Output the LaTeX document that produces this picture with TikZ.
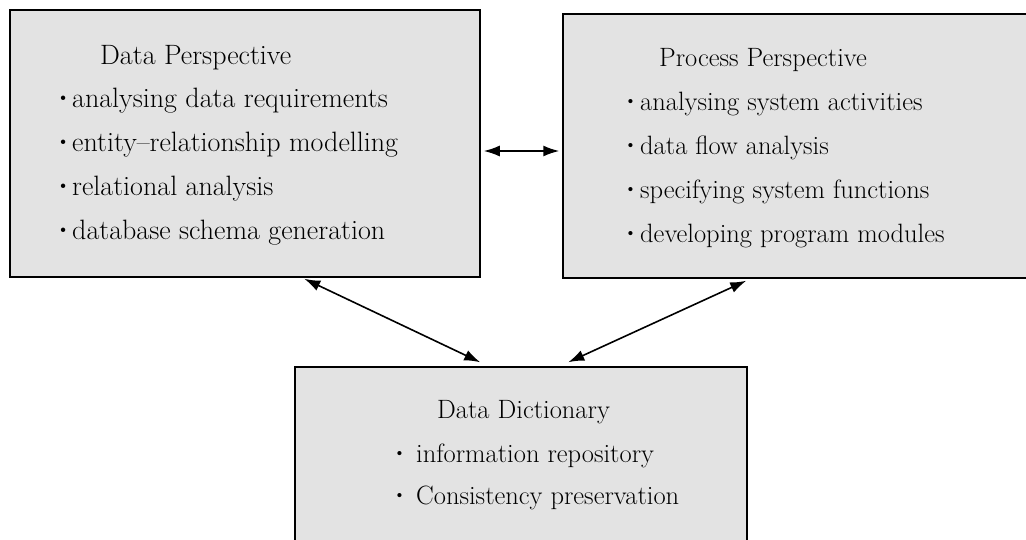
\documentclass[tikz,border=0pt]{standalone}
\usepackage{graphicx}
\usetikzlibrary{arrows.meta}
\newcommand\bul[1]{\llap{\raisebox{0.12em}{\scalebox{0.7}{\textbullet}}\hspace{#1}}}
\begin{document}
\begin{tikzpicture}[x=1pt,y=-1pt,
  box/.style={draw=black, line width=1.5pt, fill=black!11, inner sep=0pt},
  lbl/.style={anchor=base west, inner sep=0pt, font=\fontsize{26.5}{31}\selectfont},
  lblL/.style={lbl, font=\fontsize{28}{33}\selectfont},
  biarrow/.style={{Latex[length=16pt,width=11pt]}-{Latex[length=16pt,width=11pt]}, line width=1.6pt}]
\useasboundingbox (0,0) rectangle (1026,539);
\clip (0,0) rectangle (1026,539);
% boxes
\node[box, minimum width=470pt, minimum height=267pt] (dp) at (245,143.5) {};
\node[box, minimum width=477pt, minimum height=264pt] (rp) at (801.5,146) {};
\node[box, minimum width=452pt, minimum height=200pt] (dd) at (521,467) {};
% data perspective
\node[lblL] (dpt) at (100,64) {Data Perspective};
\node[lblL] (dp1) at (72,107) {\bul{2pt}analysing data requirements};
\node[lblL] (dp2) at (72,151) {\bul{2pt}entity--relationship modelling};
\node[lblL] (dp3) at (72,195) {\bul{2pt}relational analysis};
\node[lblL] (dp4) at (72,239) {\bul{2pt}database schema generation};
% process perspective
\node[lbl] (rpt) at (659,66) {Process Perspective};
\node[lbl] (rp1) at (640,110) {\bul{3pt}analysing system activities};
\node[lbl] (rp2) at (640,154) {\bul{3pt}data flow analysis};
\node[lbl] (rp3) at (640,198) {\bul{3pt}specifying system functions};
\node[lbl] (rp4) at (640,242) {\bul{3pt}developing program modules};
% data dictionary
\node[lbl] (ddt) at (437,418) {Data Dictionary};
\node[lbl] (dd1) at (416,462) {\bul{10pt}information repository};
\node[lbl] (dd2) at (416,504) {\bul{10pt}Consistency preservation};
% connectors
\draw[biarrow] ([xshift=3pt,yshift=-7.5pt]dp.east) -- ([xshift=-3pt,yshift=-5pt]rp.west);
\draw[biarrow] ([xshift=295pt,yshift=-1pt]dp.south west) -- ([xshift=186pt,yshift=4pt]dd.north west);
\draw[biarrow] ([xshift=184pt,yshift=-2pt]rp.south west) -- ([xshift=274pt,yshift=4pt]dd.north west);
\end{tikzpicture}
\end{document}
